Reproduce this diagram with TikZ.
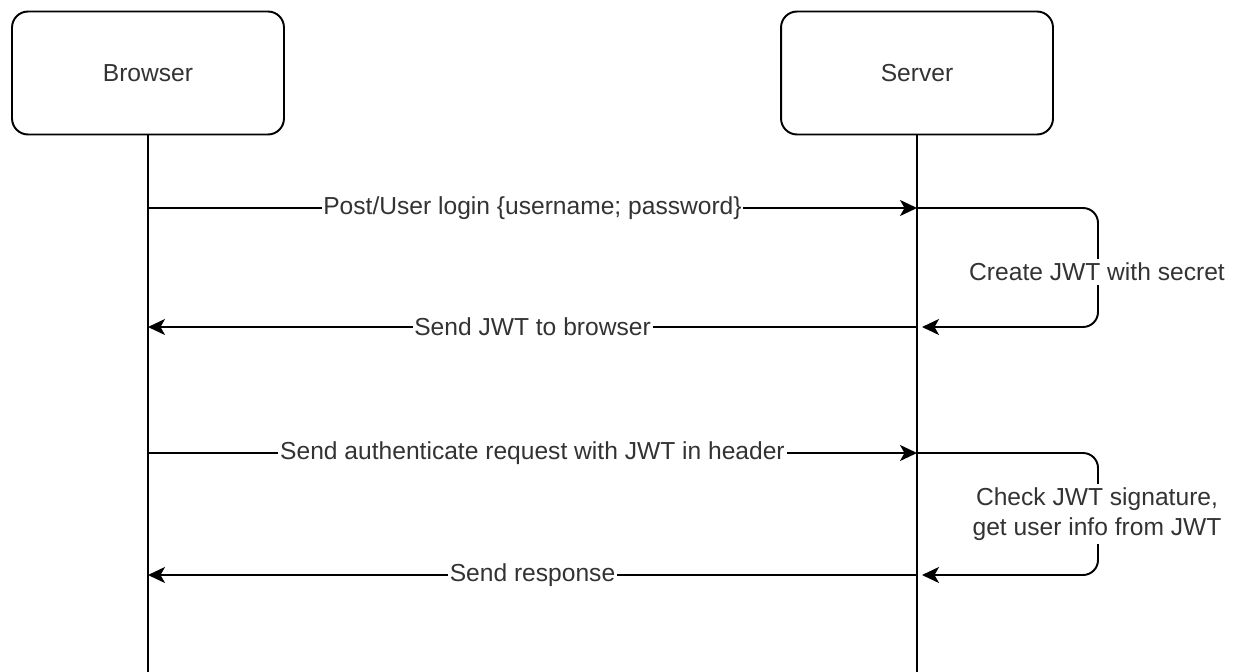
\documentclass[tikz,border=0pt]{standalone}
\usepackage{fontspec}
\setmainfont{Liberation Sans}
\usetikzlibrary{arrows.meta,calc}

\begin{document}
\begin{tikzpicture}[
                    x=0.02cm, y=-0.02cm,
                    every node/.style={font=\fontsize{14}{17}\selectfont, text=black!80},
                    actor/.style={draw, line width=1.1pt, rounded corners=0.32cm,
                                  minimum width=5.44cm, minimum height=2.46cm},
                    life/.style={draw, line width=1.1pt},
                    msg/.style={draw, line width=1.1pt, -{Stealth[length=0.34cm, width=0.32cm, inset=0.09cm]}},
                    msglabel/.style={fill=white, inner sep=1pt},
                    note/.style={fill=white, inner sep=2pt, align=center}
                  ]
                  \useasboundingbox (0,0) rectangle (1236,672);
                  % participants
                  \node[actor] (browser) at (148,73) {Browser};
                  \node[actor] (server) at (917,73) {Server};
                  \coordinate (browserend) at (148,672);
                  \coordinate (serverend) at (917,672);
                  \draw[life] (browser.south) -- (browserend);
                  \draw[life] (server.south) -- (serverend);
                  % points on the lifelines
                  \coordinate (b1) at (148,208);
                  \coordinate (s1) at (917,208);
                  \coordinate (b2) at (148,327);
                  \coordinate (s2) at (922,327);
                  \coordinate (s2a) at (917,327);
                  \coordinate (b3) at (148,453);
                  \coordinate (s3) at (917,453);
                  \coordinate (b4) at (148,575);
                  \coordinate (s4) at (922,575);
                  \coordinate (s4a) at (917,575);
                  \coordinate (loop1) at (1098,270);
                  \coordinate (loop2) at (1098,514);
                  % login
                  \draw[msg] (b1) -- node[msglabel] {Post/User login \{username; password\}} (s1);
                  \draw[msg, rounded corners=0.3cm] (s1) -| (loop1) |- (s2);
                  \node[note] (create) at (1097,272) {Create JWT with secret};
                  \draw[msg] (s2a) -- node[msglabel] {Send JWT to browser} (b2);
                  % authenticated request
                  \draw[msg] (b3) -- node[msglabel] {Send authenticate request with JWT in header} (s3);
                  \draw[msg, rounded corners=0.3cm] (s3) -| (loop2) |- (s4);
                  \node[note] (check) at (1097,514) {Check JWT signature,\\get user info from JWT};
                  \draw[msg] (s4a) -- node[msglabel] {Send response} (b4);
                \end{tikzpicture}
\end{document}
